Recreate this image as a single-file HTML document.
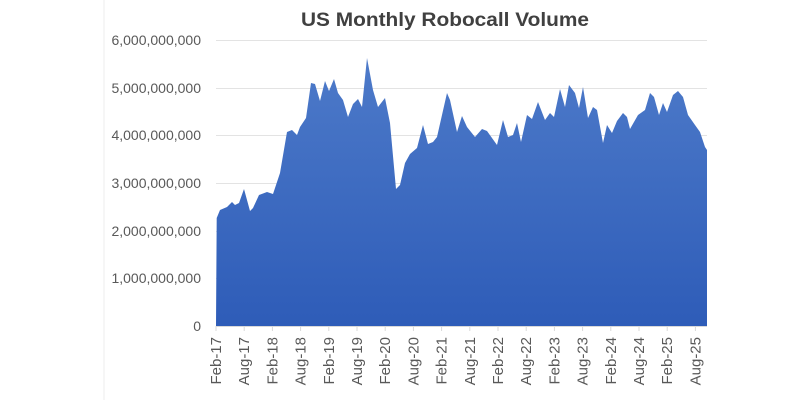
<!DOCTYPE html>
<html><head><meta charset="utf-8"><style>
body{margin:0;background:#fff;}
svg{display:block;font-family:"Liberation Sans",Arial,sans-serif;}
</style></head><body>
<svg width="800" height="400" viewBox="0 0 800 400" xmlns="http://www.w3.org/2000/svg">
<defs><linearGradient id="g" x1="0" y1="0" x2="0" y2="1"><stop offset="0" stop-color="#4d7ac9"/><stop offset="1" stop-color="#2e5cb8"/></linearGradient></defs>
<line x1="104" y1="0" x2="104" y2="400" stroke="#eeeeee" stroke-width="1"/>
<text x="445" y="26" text-anchor="middle" font-size="19" font-weight="bold" fill="#404040" textLength="288" lengthAdjust="spacingAndGlyphs">US Monthly Robocall Volume</text>
<g stroke="#e3e3e3" stroke-width="1">
<line x1="216" y1="40.5" x2="707" y2="40.5"/><line x1="216" y1="88.5" x2="707" y2="88.5"/><line x1="216" y1="135.5" x2="707" y2="135.5"/><line x1="216" y1="183.5" x2="707" y2="183.5"/><line x1="216" y1="231.5" x2="707" y2="231.5"/><line x1="216" y1="278.5" x2="707" y2="278.5"/>
</g>
<g font-size="14" fill="#595959" text-anchor="end">
<text x="201" y="45">6,000,000,000</text><text x="201" y="93">5,000,000,000</text><text x="201" y="140">4,000,000,000</text><text x="201" y="188">3,000,000,000</text><text x="201" y="236">2,000,000,000</text><text x="201" y="283">1,000,000,000</text><text x="201" y="331">0</text>
</g>
<path fill="url(#g)" d="M216,326 L216.7,218 L220,210 L227,207 L232,202 L235,205 L239,203 L244,189 L250,211 L253,208 L259,195 L267,192 L273,194 L280,173 L287,132 L292,130 L297,135 L300,127 L306,118 L311,83 L315,84 L320,101 L325,81 L329,91 L334,79 L338,93 L343,100 L348,117 L353,104 L358,99 L362,107 L367,58 L373,90 L378,107 L385,98 L390,123 L396,189 L400,185 L405,163 L410,154 L417,148 L423,125 L428,144 L433,142 L437,137 L447,93 L450,100 L457,132 L462,116 L467,127 L475,137 L482,129 L487,131 L497,145 L503,120 L508,137 L513,135 L517,123 L521,142 L527,115 L532,119 L538,102 L545,120 L550,113 L554,117 L560,89 L565,107 L569,85 L575,93 L579,108 L583,87 L588,118 L593,107 L597,110 L603,143 L607,125 L612,133 L617,121 L623,113 L627,117 L630,129 L638,115 L645,110 L650,93 L654,97 L659,115 L663,103 L667,112 L673,95 L678,91 L683,97 L688,115 L695,125 L700,132 L705,147 L707,150 L707,326 Z"/>
<line x1="216" y1="326.5" x2="707" y2="326.5" stroke="#d9d9d9"/>
<g stroke="#d9d9d9">
<line x1="216" y1="326" x2="216" y2="331"/><line x1="244.2" y1="326" x2="244.2" y2="331"/><line x1="272.4" y1="326" x2="272.4" y2="331"/><line x1="300.6" y1="326" x2="300.6" y2="331"/><line x1="328.8" y1="326" x2="328.8" y2="331"/><line x1="357" y1="326" x2="357" y2="331"/><line x1="385.2" y1="326" x2="385.2" y2="331"/><line x1="413.4" y1="326" x2="413.4" y2="331"/><line x1="441.6" y1="326" x2="441.6" y2="331"/><line x1="469.8" y1="326" x2="469.8" y2="331"/><line x1="498" y1="326" x2="498" y2="331"/><line x1="526.2" y1="326" x2="526.2" y2="331"/><line x1="554.4" y1="326" x2="554.4" y2="331"/><line x1="582.6" y1="326" x2="582.6" y2="331"/><line x1="610.8" y1="326" x2="610.8" y2="331"/><line x1="639" y1="326" x2="639" y2="331"/><line x1="667.2" y1="326" x2="667.2" y2="331"/><line x1="695.4" y1="326" x2="695.4" y2="331"/>
</g>
<g font-size="15" fill="#595959" text-anchor="end">
<text transform="translate(221,337) rotate(-90)">Feb-17</text>
<text transform="translate(249.2,337) rotate(-90)">Aug-17</text>
<text transform="translate(277.4,337) rotate(-90)">Feb-18</text>
<text transform="translate(305.6,337) rotate(-90)">Aug-18</text>
<text transform="translate(333.8,337) rotate(-90)">Feb-19</text>
<text transform="translate(362,337) rotate(-90)">Aug-19</text>
<text transform="translate(390.2,337) rotate(-90)">Feb-20</text>
<text transform="translate(418.4,337) rotate(-90)">Aug-20</text>
<text transform="translate(446.6,337) rotate(-90)">Feb-21</text>
<text transform="translate(474.8,337) rotate(-90)">Aug-21</text>
<text transform="translate(503,337) rotate(-90)">Feb-22</text>
<text transform="translate(531.2,337) rotate(-90)">Aug-22</text>
<text transform="translate(559.4,337) rotate(-90)">Feb-23</text>
<text transform="translate(587.6,337) rotate(-90)">Aug-23</text>
<text transform="translate(615.8,337) rotate(-90)">Feb-24</text>
<text transform="translate(644,337) rotate(-90)">Aug-24</text>
<text transform="translate(672.2,337) rotate(-90)">Feb-25</text>
<text transform="translate(700.4,337) rotate(-90)">Aug-25</text>
</g>
</svg>
</body></html>
